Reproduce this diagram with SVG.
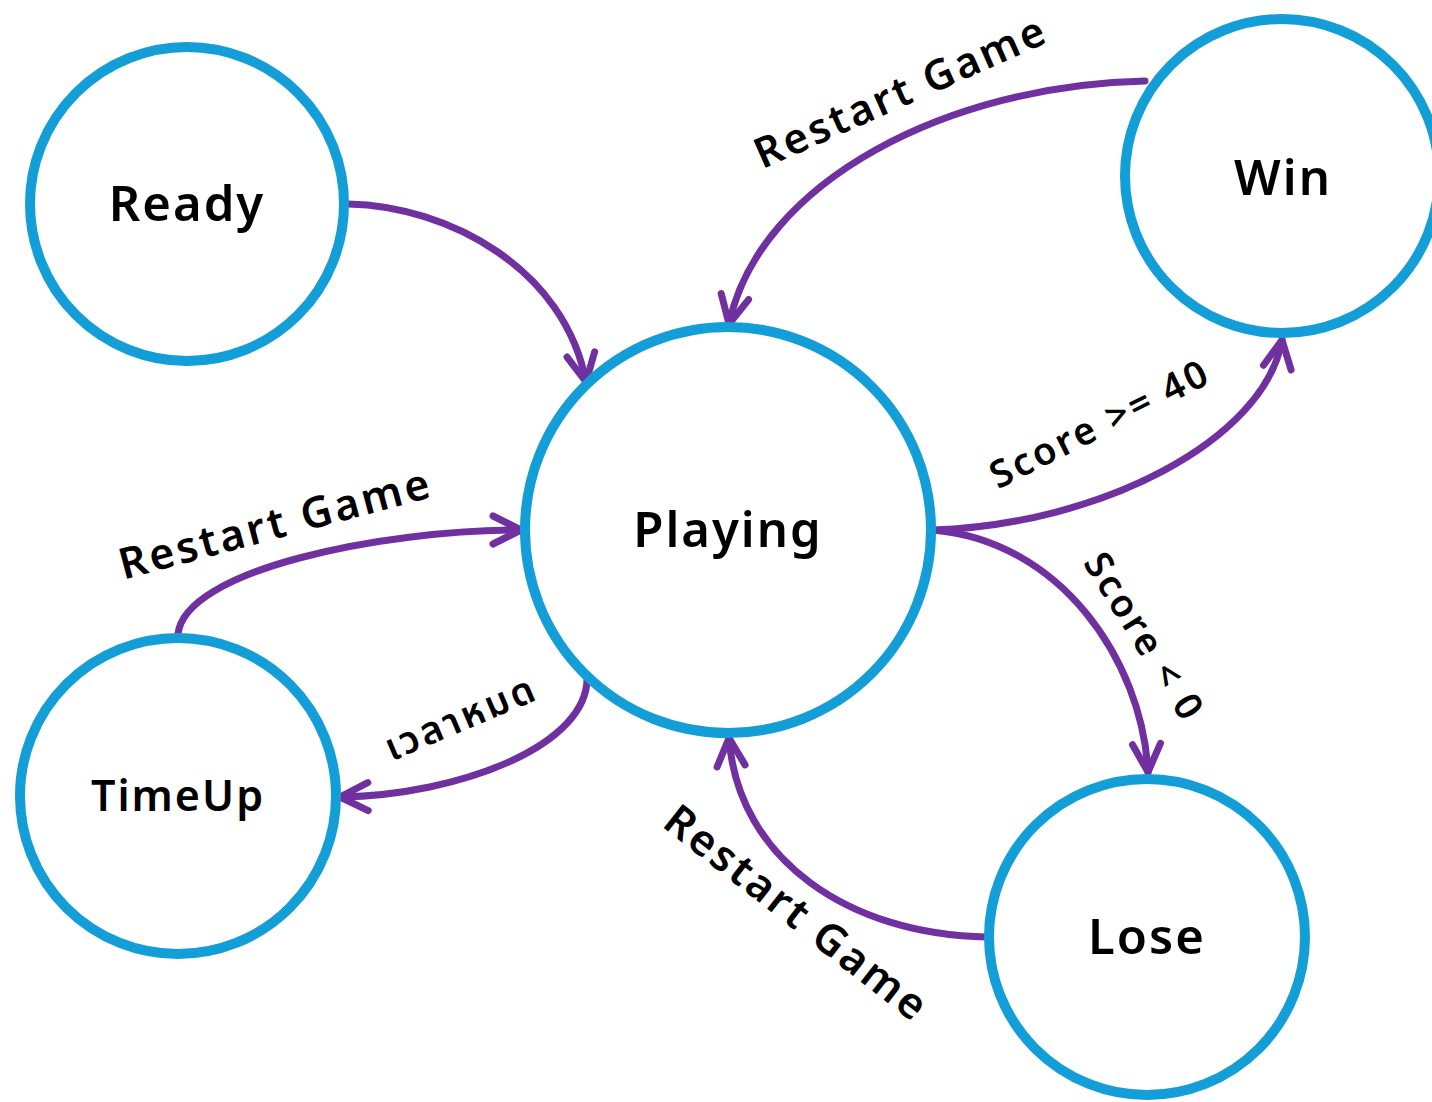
<svg xmlns="http://www.w3.org/2000/svg" width="1432" height="1102" viewBox="0 0 1432 1102">
<style>
.node circle{fill:#fff;stroke:#149ED8;stroke-width:10}
.node text{font-family:"Noto Sans","Lato",sans-serif;font-weight:600;font-size:49px;fill:#000;text-anchor:middle;dominant-baseline:central;letter-spacing:2px}
.edge{fill:none;stroke:#7030A0;stroke-width:7;stroke-linecap:round}
.lbl{font-family:"Noto Sans","Noto Sans Thai","Lato",sans-serif;font-weight:600;font-size:43px;fill:#000;text-anchor:middle;dominant-baseline:central;letter-spacing:3px}
</style>
<defs>
<marker id="arr" markerUnits="userSpaceOnUse" markerWidth="60" markerHeight="60" viewBox="-40 -30 60 60" refX="0" refY="0" orient="auto">
<path d="M-28,-14 L0,0 L-28,14" fill="none" stroke="#7030A0" stroke-width="7" stroke-linecap="round" stroke-linejoin="round"/>
</marker>
</defs>
<rect width="1432" height="1102" fill="#fff"/>
<g id="connectors">
<path class="edge" d="M348,204 C450,206 565,270 586,382" marker-end="url(#arr)"/>
<path class="edge" d="M1145,81 C950,85 760,180 729,324" marker-end="url(#arr)"/>
<path class="edge" d="M932,530 C1100,525 1265,440 1282,340" marker-end="url(#arr)"/>
<path class="edge" d="M932,530 C1060,540 1142,660 1148,772" marker-end="url(#arr)"/>
<path class="edge" d="M987,937 C850,935 738,860 729,738" marker-end="url(#arr)"/>
<path class="edge" d="M178,634 C185,570 380,530 521,530" marker-end="url(#arr)"/>
<path class="edge" d="M587,676 C590,745 460,795 340,797" marker-end="url(#arr)"/>
<text class="lbl" style="font-size:42px" transform="translate(900,90) rotate(-24)">Restart Game</text>
<text class="lbl" transform="translate(275,522) rotate(-15)">Restart Game</text>
<text class="lbl" transform="translate(798,912) rotate(38)">Restart Game</text>
<text class="lbl" style="font-size:38px" transform="translate(1099,422) rotate(-26.6)">Score &gt;= 40</text>
<text class="lbl" style="font-size:38px" transform="translate(1146,636) rotate(58)">Score &lt; 0</text>
<text class="lbl" style="font-size:38px" transform="translate(460,716) rotate(-23)">เวลาหมด</text>
</g>
<g id="node-ready" class="node"><circle cx="187" cy="204" r="157"/><text x="187" y="202">Ready</text></g>
<g id="node-playing" class="node"><circle cx="728" cy="530" r="203"/><text x="728" y="528">Playing</text></g>
<g id="node-win" class="node"><circle cx="1282" cy="176" r="157"/><text x="1283" y="176">Win</text></g>
<g id="node-timeup" class="node"><circle cx="178" cy="796" r="158"/><text x="178" y="794" style="font-size:43px">TimeUp</text></g>
<g id="node-lose" class="node"><circle cx="1147" cy="937" r="158"/><text x="1147" y="935">Lose</text></g>
</svg>
